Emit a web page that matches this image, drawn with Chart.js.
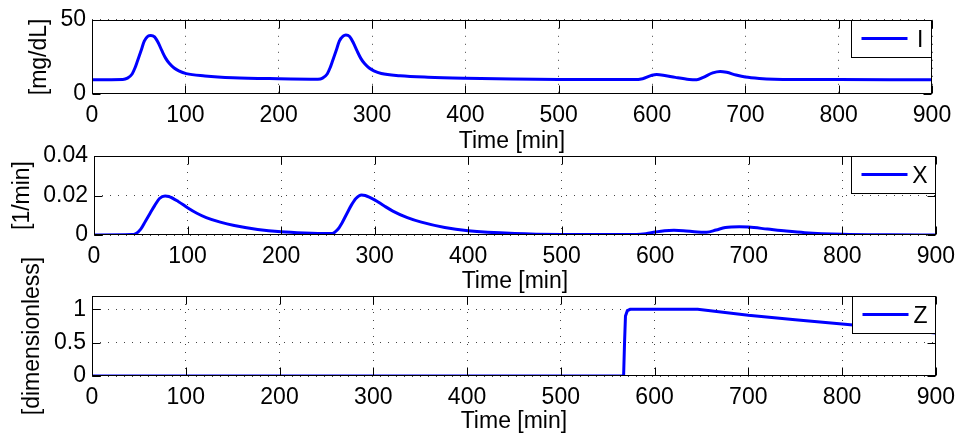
<!DOCTYPE html>
<html>
<head>
<meta charset="utf-8">
<title>I, X, Z vs time</title>
<script src="https://cdn.jsdelivr.net/npm/chart.js"></script>
<style>
  html, body { margin: 0; padding: 0; background: #fff; }
  #wrap { position: relative; width: 963px; height: 435px; }
  #wrap canvas { position: absolute; left: 0; top: 0; }
</style>
</head>
<body>
<div id="wrap">
  <canvas id="plotI" width="963" height="435"></canvas>
  <canvas id="plotX" width="963" height="435"></canvas>
  <canvas id="plotZ" width="963" height="435"></canvas>
</div>
<script>
// shared time axis
const timeTicks = [0, 100, 200, 300, 400, 500, 600, 700, 800, 900];

// I [mg/dL]
const timeI = [0, 33, 38, 43, 46, 49, 53, 56, 60, 63, 67, 71, 75, 79, 83, 88, 93, 101, 121, 151, 200,
  242, 247, 252, 255, 258, 262, 265, 269, 272, 276, 280, 284, 288, 292, 297, 302, 310, 330, 360,
  400, 450, 500, 580, 590, 600, 605, 612, 625, 640, 648, 655, 665, 673, 680, 690, 700, 715, 750,
  800, 900];
const valI = [9.6, 9.8, 10.7, 13.5, 17.5, 22.8, 30, 35.7, 39, 39.5, 38.5, 34.5, 29, 24, 20.5, 17.5,
  15.6, 13.7, 12.2, 11, 10.3,
  10, 10.7, 13.5, 17.5, 22.8, 30, 35.7, 39, 39.8, 38.8, 34.5, 29, 24, 20.5, 17.5, 15.6, 13.8, 12.3,
  11.3, 10.6, 10.1, 9.8, 9.7, 10.3, 12.6, 13.1, 12.7, 11.2, 9.8, 9.6, 11.2, 14.2, 15.2, 14.6, 12.8,
  11.4, 10.5, 9.8, 9.7, 9.6];
const ticksI = [0, 50];

// X [1/min]
const timeX = [0, 40, 45, 50, 55, 60, 65, 70, 76, 80, 90, 100, 110, 120, 135, 150, 175, 200, 225,
  250, 255, 260, 265, 270, 275, 280, 286, 290, 300, 310, 320, 335, 350, 375, 400, 450, 500,
  580, 590, 600, 610, 620, 630, 645, 655, 665, 675, 690, 700, 720, 740, 760, 800, 850, 900];
const valX = [0, 0.0002, 0.0008, 0.003, 0.007, 0.011, 0.015, 0.0185, 0.0198, 0.0195, 0.017, 0.0138,
  0.011, 0.0088, 0.0065, 0.0048, 0.0028, 0.0016, 0.001,
  0.0007, 0.0008, 0.0025, 0.006, 0.0105, 0.015, 0.0185, 0.0203, 0.02, 0.0178, 0.0148, 0.012,
  0.0088, 0.0065, 0.0038, 0.0022, 0.0008, 0.0003,
  0.0002, 0.0006, 0.0015, 0.0022, 0.0024, 0.0022, 0.0015, 0.0014, 0.0025, 0.0038, 0.0042, 0.004,
  0.003, 0.002, 0.0012, 0.0004, 0.0001, 0];
const ticksX = [0, 0.02, 0.04];

// Z [dimensionless]
const timeZ = [0, 567, 568, 569, 571, 574, 646, 700, 750, 800, 850, 900];
const valZ = [0, 0, 0.5, 0.9, 0.98, 1, 1, 0.91, 0.845, 0.78, 0.715, 0.645];
const ticksZ = [0, 0.5, 1];

const FONT = '"Liberation Sans", Arial, Helvetica, sans-serif';
const FS = 23;
const TICK_LEN = 8;

Chart.defaults.font.family = FONT;
Chart.defaults.font.size = FS;
Chart.defaults.color = '#000';

// box, inward ticks and legend drawn on top of the data
const boxPlugin = {
  id: 'boxAndLegend',
  afterDatasetsDraw(chart) {
    const { ctx, chartArea: a, scales } = chart;
    const L = Math.round(a.left) + 0.5, R = Math.round(a.right) - 0.5;
    const T = Math.round(a.top) + 0.5, B = Math.round(a.bottom) - 0.5;
    ctx.save();
    ctx.strokeStyle = '#000';
    ctx.lineWidth = 1;
    ctx.setLineDash([]);
    ctx.beginPath();
    scales.x.ticks.forEach(t => {
      const px = Math.round(scales.x.getPixelForValue(t.value)) + 0.5;
      ctx.moveTo(px, B); ctx.lineTo(px, B - TICK_LEN);
      ctx.moveTo(px, T); ctx.lineTo(px, T + TICK_LEN);
    });
    scales.y.ticks.forEach(t => {
      const py = Math.round(scales.y.getPixelForValue(t.value)) + 0.5;
      ctx.moveTo(L, py); ctx.lineTo(L + TICK_LEN, py);
      ctx.moveTo(R, py); ctx.lineTo(R - TICK_LEN, py);
    });
    ctx.stroke();
    ctx.strokeRect(L, T, R - L, B - T);

    // legend
    const ds = chart.data.datasets[0];
    ctx.font = FS + 'px ' + FONT;
    const tw = ctx.measureText(ds.label).width;
    const w = Math.max(80, Math.round(61 + tw + 8)), h = 37;
    const x0 = R - w, y0 = T;
    ctx.fillStyle = '#fff';
    ctx.fillRect(x0, y0, w, h);
    ctx.strokeRect(x0, y0, w, h);
    ctx.strokeStyle = ds.borderColor;
    ctx.lineWidth = 3;
    ctx.beginPath();
    ctx.moveTo(x0 + 10, y0 + 18);
    ctx.lineTo(x0 + 56, y0 + 18);
    ctx.stroke();
    ctx.fillStyle = '#000';
    ctx.textAlign = 'right';
    ctx.textBaseline = 'middle';
    ctx.fillText(ds.label, x0 + w - 8, y0 + 20);
    ctx.restore();
  }
};

function makePanel(id, label, t, v, yMax, yTicks, yTitle, titlePad, area, axisH, smooth) {
  new Chart(document.getElementById(id), {
    type: 'line',
    data: {
      datasets: [{
        label: label,
        data: t.map((x, i) => ({ x: x, y: v[i] })),
        borderColor: '#0000ff',
        borderWidth: 3,
        pointRadius: 0,
        fill: false,
        cubicInterpolationMode: smooth ? 'monotone' : 'default',
        tension: 0
      }]
    },
    options: {
      responsive: false,
      animation: false,
      events: [],
      layout: {
        padding: { left: 0, top: area.top, right: 963 - area.right, bottom: Math.max(0, 435 - area.bottom - axisH) }
      },
      plugins: { legend: { display: false }, tooltip: { enabled: false } },
      scales: {
        x: {
          type: 'linear',
          min: 0, max: 900,
          afterBuildTicks: s => { s.ticks = timeTicks.map(val => ({ value: val })); },
          afterFit: s => { s.height = axisH; },
          grid: { color: '#444', lineWidth: 1, drawTicks: false },
          border: { display: false, dash: [1, 7] },
          ticks: { padding: 8, maxRotation: 0, autoSkip: false, callback: val => String(val) },
          title: { display: true, text: 'Time [min]', padding: { top: 0, bottom: 0 } }
        },
        y: {
          type: 'linear',
          min: 0, max: yMax,
          afterBuildTicks: s => { s.ticks = yTicks.map(val => ({ value: val })); },
          afterFit: s => { s.width = area.left; },
          grid: { color: '#444', lineWidth: 1, drawTicks: false },
          border: { display: false, dash: [1, 7] },
          ticks: { padding: 6, autoSkip: false, callback: val => String(val) },
          title: { display: true, text: yTitle, padding: { top: titlePad, bottom: 0 } }
        }
      }
    },
    plugins: [boxPlugin]
  });
}

makePanel('plotI', 'I', timeI, valI, 50, ticksI, '[mg/dL]', 26,
  { left: 92, top: 16, right: 932, bottom: 94 }, 61, true);
makePanel('plotX', 'X', timeX, valX, 0.04, ticksX, '[1/min]', 9,
  { left: 94, top: 156, right: 936, bottom: 235 }, 60, true);
makePanel('plotZ', 'Z', timeZ, valZ, 1.2, ticksZ, '[dimensionless]', 19,
  { left: 92, top: 296, right: 941, bottom: 376 }, 59, false);
</script>
</body>
</html>
